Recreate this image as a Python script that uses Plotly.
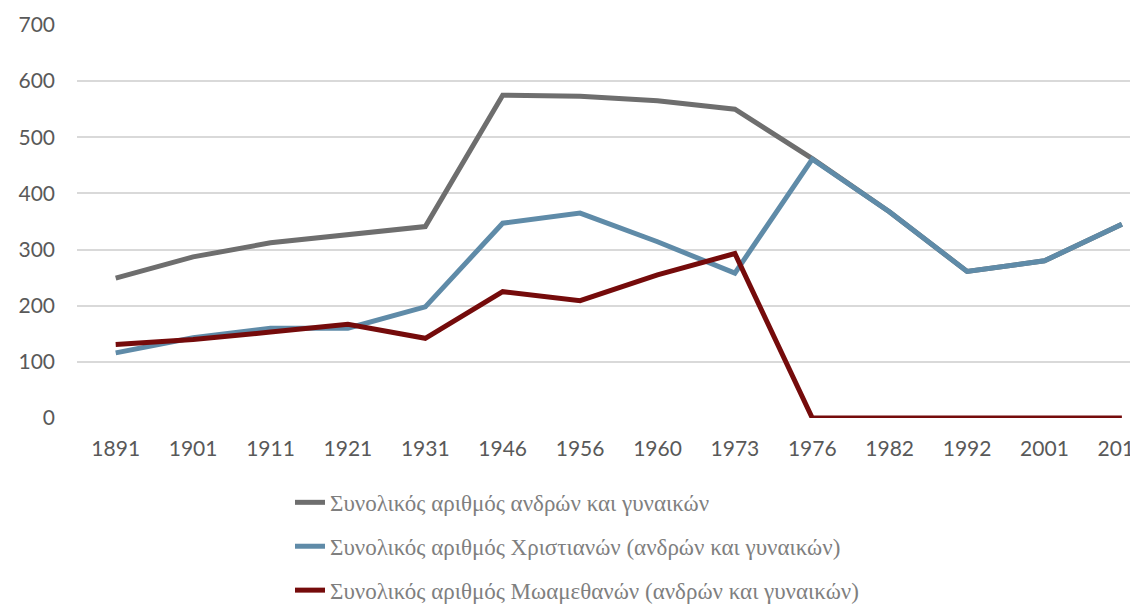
import plotly.graph_objects as go

years = ["1891", "1901", "1911", "1921", "1931", "1946", "1956", "1960",
         "1973", "1976", "1982", "1992", "2001", "2011"]
total = [249, 287, 312, 326, 341, 575, 573, 565, 550, 462, 367, 261, 280, 345]
christians = [116, 143, 160, 160, 198, 347, 365, 314, 258, 461, 367, 261, 280, 345]
muslims = [131, 140, 153, 167, 142, 225, 209, 255, 293, 0, 0, 0, 0, 0]

names = [
    "Συνολικός αριθμός ανδρών και γυναικών",
    "Συνολικός αριθμός Χριστιανών (ανδρών και γυναικών)",
    "Συνολικός αριθμός Μωαμεθανών (ανδρών και γυναικών)",
]
colors = ["#6e6e6e", "#5f8ba8", "#750b0b"]
series = [total, christians, muslims]

fig = go.Figure()
for i, (vals, name, col) in enumerate(zip(series, names, colors)):
    fig.add_trace(go.Scatter(
        x=years, y=vals, mode="lines", name=name,
        line=dict(color=col, width=5), legendgroup=f"g{i}",
    ))

fig.update_layout(
    width=1138, height=605,
    margin=dict(l=69, r=0, t=17, b=195),
    paper_bgcolor="white", plot_bgcolor="white",
    showlegend=True,
    legend=dict(
        orientation="v", x=0.2, xanchor="left", y=-0.16, yanchor="top",
        font=dict(family="Liberation Serif", size=23, color="#7f7f7f"),
        tracegroupgap=11, bgcolor="rgba(0,0,0,0)",
    ),
    xaxis=dict(
        type="category", range=[-0.5, 13.26], showgrid=False, showline=False,
        ticks="", ticklabelstandoff=16,
        tickfont=dict(family="Lato", size=21, color="#595959"),
    ),
    yaxis=dict(
        range=[0, 700], tickvals=[0, 100, 200, 300, 400, 500, 600, 700],
        showgrid=True, gridcolor="#d9d9d9", gridwidth=1.5,
        zeroline=False, showline=False, ticks="", ticklabelstandoff=21,
        tickfont=dict(family="Lato", size=21, color="#595959"),
    ),
)
fig.write_html("out.html")
